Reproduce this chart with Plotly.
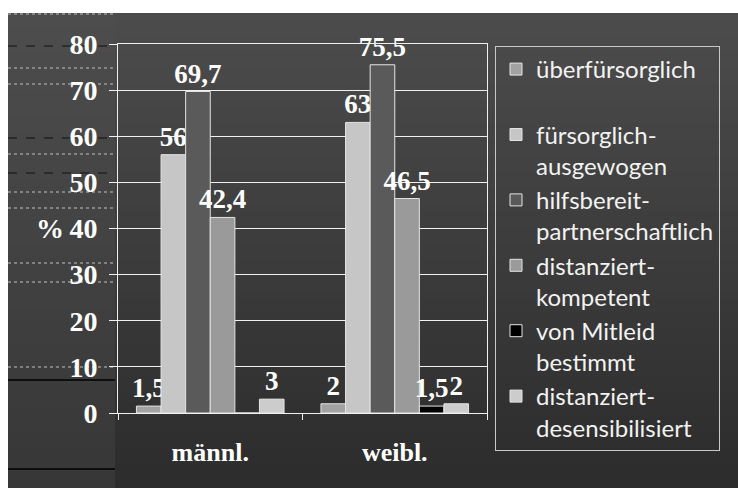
import plotly.graph_objects as go

# Data
categories = ["männl.", "weibl."]
series_names = [
    "überfürsorglich<br>&nbsp;",
    "fürsorglich-<br>ausgewogen",
    "hilfsbereit-<br>partnerschaftlich",
    "distanziert-<br>kompetent",
    "von Mitleid<br>bestimmt",
    "distanziert-<br>desensibilisiert",
]
values_maennl = [1.5, 56, 69.7, 42.4, 0, 3]
values_weibl = [2, 63, 75.5, 46.5, 1.5, 2]
y_ticks = [0, 10, 20, 30, 40, 50, 60, 70, 80]

bar_colors = ["#a2a2a2", "#c6c6c6", "#5a5a5a", "#9a9a9a", "#000000", "#cccccc"]

# Plot area geometry in pixels
W, H = 738, 488
L, R, T, B = 118, 251, 44, 75
PW, PH = W - L - R, H - T - B


def px_x(X):
    return (X - L) / PW


def px_y(Y):
    return (H - B - Y) / PH


def fmt(v):
    if v == 0:
        return ""
    return ("%g" % v).replace(".", ",")


SERIF = "Liberation Serif"

fig = go.Figure()
for i, name in enumerate(series_names):
    vals = [values_maennl[i], values_weibl[i]]
    fig.add_trace(go.Bar(
        x=categories, y=vals, name=name, legendgroup=str(i),
        marker=dict(color=bar_colors[i], line=dict(color="#e4e4e4", width=1)),
        text=[fmt(v) for v in vals], textposition="outside",
        textfont=dict(family=SERIF, size=27, color="white", weight="bold"),
        constraintext="none", cliponaxis=False,
    ))


def lerp(c1, c2, t):
    return "rgb(%d,%d,%d)" % tuple(round(a + (b - a) * t) for a, b in zip(c1, c2))


shapes = []
# Background gradients: main panel and left strip (overlapping bands, drawn top-down)
n = 60
for k in range(n):
    y0 = 13 + (488 - 13) * k / n
    y1 = min(488, 13 + (488 - 13) * (k + 1) / n + 2)
    t = k / (n - 1)
    shapes.append(dict(type="rect", xref="paper", yref="paper", layer="below",
                       x0=px_x(115), x1=px_x(738), y0=px_y(y0), y1=px_y(y1),
                       fillcolor=lerp((76, 76, 76), (44, 44, 44), t), line=dict(width=0)))
    shapes.append(dict(type="rect", xref="paper", yref="paper", layer="below",
                       x0=px_x(8), x1=px_x(115), y0=px_y(y0), y1=px_y(y1),
                       fillcolor=lerp((77, 77, 77), (55, 55, 55), t), line=dict(width=0)))

# Rule lines in the left strip
for Y in [14, 68, 84, 154, 192, 208, 263, 282, 367]:
    shapes.append(dict(type="line", xref="paper", yref="paper", layer="below",
                       x0=px_x(8), x1=px_x(115), y0=px_y(Y), y1=px_y(Y),
                       line=dict(color="#c0c0c0", width=1, dash="dot")))
for Y in [46, 138, 173]:
    shapes.append(dict(type="line", xref="paper", yref="paper", layer="below",
                       x0=px_x(8), x1=px_x(115), y0=px_y(Y), y1=px_y(Y),
                       line=dict(color="#111111", width=1, dash="dash")))
for Y in [380, 469]:
    shapes.append(dict(type="line", xref="paper", yref="paper", layer="below",
                       x0=px_x(8), x1=px_x(115), y0=px_y(Y), y1=px_y(Y),
                       line=dict(color="#000000", width=1.5)))

fig.update_layout(
    width=W, height=H, autosize=False,
    margin=dict(l=L, r=R, t=T, b=B, pad=0),
    paper_bgcolor="white", plot_bgcolor="rgba(0,0,0,0)",
    barmode="group", bargap=0.2, bargroupgap=0,
    shapes=shapes,
    showlegend=True,
    legend=dict(
        x=px_x(495), xanchor="left", y=px_y(46), yanchor="top",
        bgcolor="rgba(0,0,0,0)", bordercolor="#c8c8c8", borderwidth=1,
        font=dict(family="Lato", size=24, color="#f2f2f2"),
        valign="top", tracegroupgap=10, traceorder="normal",
        maxheight=440,
    ),
    annotations=[dict(
        text="%", xref="paper", yref="paper", x=px_x(50), y=px_y(229),
        xanchor="center", yanchor="middle", showarrow=False,
        font=dict(family=SERIF, size=28, color="white", weight="bold"),
    )],
)

fig.update_yaxes(
    range=[0, 80], tickvals=y_ticks, showgrid=True, gridcolor="#f0f0f0", gridwidth=1,
    zeroline=False, showline=True, linecolor="#f0f0f0", linewidth=1, mirror=True,
    ticks="outside", ticklen=8, tickcolor="#f0f0f0", ticklabelstandoff=6,
    tickfont=dict(family=SERIF, size=28, color="white", weight="bold"),
)
fig.update_xaxes(
    showline=True, linecolor="#f0f0f0", linewidth=1, mirror=True,
    ticks="outside", tickson="boundaries", ticklen=6, tickcolor="#f0f0f0",
    ticklabelstandoff=16,
    tickfont=dict(family=SERIF, size=26, color="white", weight="bold"),
)

fig.write_html("out.html")
